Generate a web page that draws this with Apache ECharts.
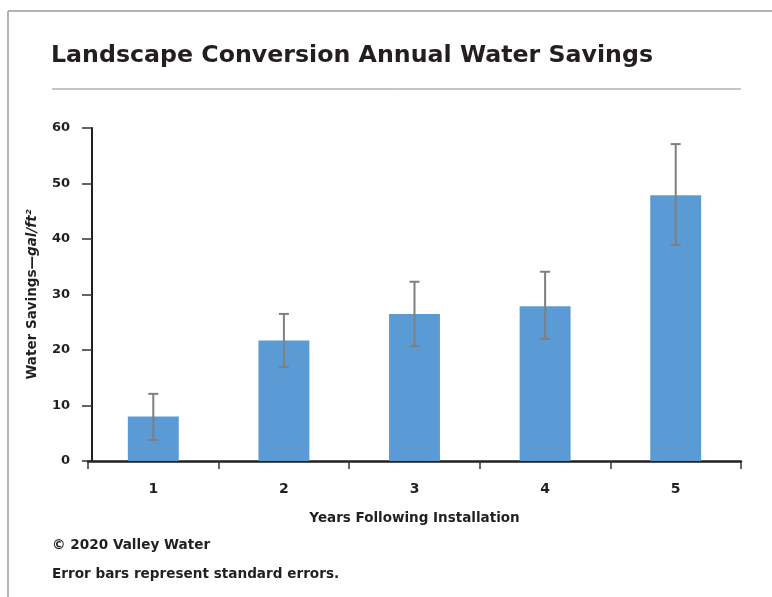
<!DOCTYPE html>
<html>
<head>
<meta charset="utf-8">
<script src="https://cdn.jsdelivr.net/npm/echarts@6/dist/echarts.min.js"></script>
<style>
html,body{margin:0;padding:0;background:#fff;}
#c{width:772px;height:597px;}
</style>
</head>
<body>
<div id="c"></div>
<script>
var categories = ['1', '2', '3', '4', '5'];
var savings = [8, 21.7, 26.5, 27.9, 47.9];
var errLow = [3.8, 16.9, 20.7, 22.0, 38.9];
var errHigh = [12.1, 26.5, 32.3, 34.1, 57.1];
var yTicks = [0, 10, 20, 30, 40, 50, 60];

var FONT = '"DejaVu Sans", "Liberation Sans", Arial, sans-serif';
var TEXT = '#231f20';

var chart = echarts.init(document.getElementById('c'), null, {renderer: 'canvas'});

var errData = categories.map(function (c, i) { return [i, errLow[i], errHigh[i]]; });

chart.setOption({
  backgroundColor: '#fff',
  animation: false,
  grid: {left: 88, right: 31, top: 128, bottom: 136, containLabel: false},
  graphic: [
    {type: 'text', left: 0, top: -18, style: {text: 'y as seen (Figure 3)', font: '18px ' + FONT, fill: TEXT}},
    {type: 'line', shape: {x1: 8, y1: 11, x2: 772, y2: 11}, style: {stroke: '#9a9a9a', lineWidth: 1.5}},
    {type: 'line', shape: {x1: 8, y1: 11, x2: 8, y2: 597}, style: {stroke: '#9a9a9a', lineWidth: 1.5}},
    {type: 'text', left: 51, top: 44, style: {text: 'Landscape Conversion Annual Water Savings', font: 'bold 23.7px ' + FONT, fill: TEXT}},
    {type: 'line', shape: {x1: 52, y1: 89, x2: 741, y2: 89}, style: {stroke: '#8a8a8a', lineWidth: 1}},
    {type: 'text', left: 52, top: 538, style: {text: '\u00a9 2020 Valley Water', font: 'bold 13.6px ' + FONT, fill: TEXT}},
    {type: 'text', left: 52, top: 567, style: {text: 'Error bars represent standard errors.', font: 'bold 13.6px ' + FONT, fill: TEXT}}
  ],
  xAxis: {
    type: 'category',
    data: categories,
    name: 'Years Following Installation',
    nameLocation: 'middle',
    nameGap: 50,
    nameTextStyle: {fontFamily: FONT, fontWeight: 'bold', fontSize: 13.5, color: TEXT},
    axisLine: {lineStyle: {color: '#231f20', width: 2.5}},
    axisTick: {show: true, alignWithLabel: false, length: 8, inside: false, lineStyle: {color: '#333', width: 1.5}},
    axisLabel: {fontFamily: FONT, fontWeight: 'bold', fontSize: 14, color: TEXT, margin: 21}
  },
  yAxis: {
    type: 'value',
    min: 0, max: 60, interval: 10,
    offset: -4,
    name: '{n|Water Savings\u2014}{i|gal/ft\u00b2}',
    nameLocation: 'middle',
    nameGap: 53,
    nameRotate: 90,
    nameTextStyle: {
      rich: {
        n: {fontFamily: FONT, fontWeight: 'bold', fontSize: 13.5, color: TEXT},
        i: {fontFamily: FONT, fontWeight: 'bold', fontStyle: 'italic', fontSize: 13.5, color: TEXT}
      }
    },
    axisLine: {show: true, lineStyle: {color: '#231f20', width: 2}},
    axisTick: {show: true, length: 10, lineStyle: {color: '#333', width: 1.5}},
    splitLine: {show: false},
    axisLabel: {fontFamily: FONT, fontWeight: 'bold', fontSize: 13, color: TEXT, margin: 22,
      formatter: function (v) { return yTicks.indexOf(v) >= 0 ? String(v) : ''; }}
  },
  series: [
    {
      type: 'bar',
      data: savings,
      barWidth: '39%',
      itemStyle: {color: '#5b9bd5'},
      z: 2
    },
    {
      type: 'custom',
      data: errData,
      z: 5,
      renderItem: function (params, api) {
        var x = api.value(0);
        var lo = api.coord([x, api.value(1)]);
        var hi = api.coord([x, api.value(2)]);
        var cap = 5;
        var st = {stroke: '#7f7f7f', lineWidth: 2};
        return {
          type: 'group',
          children: [
            {type: 'line', shape: {x1: lo[0], y1: lo[1], x2: hi[0], y2: hi[1]}, style: st},
            {type: 'line', shape: {x1: hi[0] - cap, y1: hi[1], x2: hi[0] + cap, y2: hi[1]}, style: st},
            {type: 'line', shape: {x1: lo[0] - cap, y1: lo[1], x2: lo[0] + cap, y2: lo[1]}, style: st}
          ]
        };
      }
    }
  ]
});
</script>
</body>
</html>
